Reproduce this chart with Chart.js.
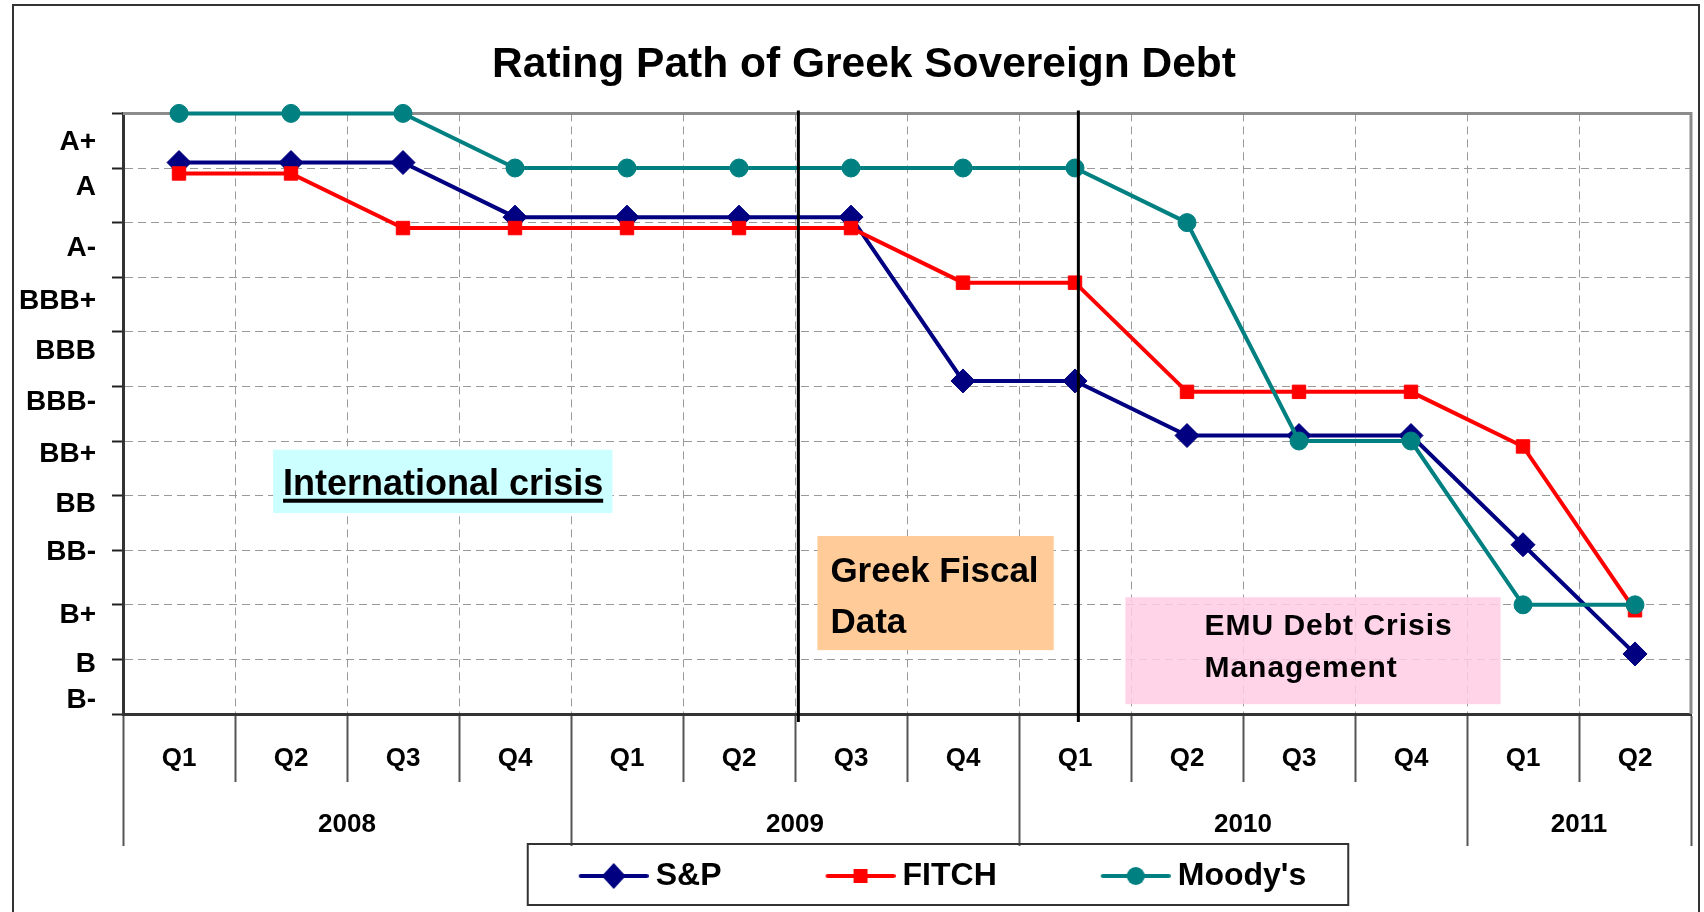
<!DOCTYPE html>
<html>
<head>
<meta charset="utf-8">
<title>Rating Path of Greek Sovereign Debt</title>
<script src="https://cdn.jsdelivr.net/npm/chart.js@4.4.1/dist/chart.umd.min.js"></script>
<style>
  body { margin: 0; background: #fff; }
  canvas { display: block; }
</style>
</head>
<body>
<canvas id="ratingChart" width="1704" height="912"></canvas>
<script>
// quarters on the axis, years grouped under them
const quarters = ['Q1', 'Q2', 'Q3', 'Q4', 'Q1', 'Q2', 'Q3', 'Q4', 'Q1', 'Q2', 'Q3', 'Q4', 'Q1', 'Q2'];
const years = ['2008', '2009', '2010', '2011'];
const quartersPerYear = [4, 4, 4, 2];

// rating labels and where they sit on the 0..11 scale
const ratings = ['A+', 'A', 'A-', 'BBB+', 'BBB', 'BBB-', 'BB+', 'BB', 'BB-', 'B+', 'B', 'B-'];
const ratingPos = [10.48, 9.64, 8.53, 7.56, 6.65, 5.71, 4.76, 3.85, 2.96, 1.81, 0.91, 0.26];

const sp = [10.1, 10.1, 10.1, 9.1, 9.1, 9.1, 9.1, 6.1, 6.1, 5.1, 5.1, 5.1, 3.1, 1.1];
const fitch = [9.9, 9.9, 8.9, 8.9, 8.9, 8.9, 8.9, 7.9, 7.9, 5.9, 5.9, 5.9, 4.9, 1.9];
const moodys = [11, 11, 11, 10, 10, 10, 10, 10, 10, 9, 5, 5, 2, 2];

// black event lines (category index)
const eventLines = [5.53, 8.03];

// text boxes, corners in axis units
const notes = [
  { lines: ['International crisis'], x0: 0.84, x1: 3.87, y0: 4.84, y1: 3.68, fill: '#ccffff', size: 36, spacing: 0, dx: 10, dy: 45, gap: 0, underline: true },
  { lines: ['Greek Fiscal', 'Data'], x0: 5.70, x1: 7.81, y0: 3.26, y1: 1.17, fill: '#ffcc99', size: 35, spacing: 0, dx: 13, dy: 46, gap: 51 },
  { lines: ['EMU Debt Crisis', 'Management'], x0: 8.45, x1: 11.80, y0: 2.14, y1: 0.18, fill: 'rgba(255,204,229,0.85)', size: 30, spacing: 1, dx: 79, dy: 38, gap: 42 }
];

const navy = '#000080';
const red = '#ff0000';
const teal = '#008080';
const FONT = '"Liberation Sans", Arial, sans-serif';

const yearEdges = [0];
quartersPerYear.forEach(n => yearEdges.push(yearEdges[yearEdges.length - 1] + n));
const yearMid = years.map((y, i) => (yearEdges[i] + yearEdges[i + 1]) / 2);

function legendIcon(color, style) {
  const c = document.createElement('canvas');
  c.width = 88;
  c.height = 28;
  const g = c.getContext('2d');
  g.strokeStyle = color;
  g.fillStyle = color;
  g.lineWidth = 4;
  g.lineCap = 'round';
  g.beginPath();
  g.moveTo(20, 14);
  g.lineTo(86, 14);
  g.stroke();
  g.beginPath();
  if (style === 'diamond') {
    g.moveTo(53, 1); g.lineTo(65, 14); g.lineTo(53, 27); g.lineTo(41, 14); g.closePath();
  } else if (style === 'square') {
    g.rect(46, 7, 14, 14);
  } else {
    g.arc(53, 14, 9, 0, Math.PI * 2);
  }
  g.fill();
  return c;
}
const legendIcons = [legendIcon(navy, 'diamond'), legendIcon(red, 'square'), legendIcon(teal, 'circle')];

const decor = {
  id: 'decor',
  beforeDraw(chart) {
    const ctx = chart.ctx;
    ctx.save();
    ctx.fillStyle = '#fff';
    ctx.fillRect(0, 0, chart.width, chart.height);
    ctx.strokeStyle = '#333';
    ctx.lineWidth = 2;
    ctx.strokeRect(13, 5, 1686, chart.height + 20);
    ctx.restore();
  },
  afterLayout(chart) {
    const lg = chart.legend;
    lg.left += 87;
    lg.right += 87;
    lg.top += 14 - lg.options.labels.padding;
    chart.titleBlock.left += 13;
    chart.titleBlock.right += 13;
  },
  beforeDatasetsDraw(chart) {
    const { ctx, chartArea: a, scales: { x, y } } = chart;
    ctx.save();
    ctx.strokeStyle = '#8c8c8c';
    ctx.lineWidth = 3;
    ctx.beginPath();
    ctx.moveTo(a.left, a.top);
    ctx.lineTo(a.right, a.top);
    ctx.lineTo(a.right, a.bottom);
    ctx.stroke();

    notes.forEach(n => {
      const l = x.getPixelForValue(n.x0), r = x.getPixelForValue(n.x1);
      const t = y.getPixelForValue(n.y0), b = y.getPixelForValue(n.y1);
      ctx.fillStyle = n.fill;
      ctx.fillRect(l, t, r - l, b - t);
      ctx.fillStyle = '#000';
      ctx.font = 'bold ' + n.size + 'px ' + FONT;
      ctx.letterSpacing = n.spacing + 'px';
      ctx.textAlign = 'left';
      ctx.textBaseline = 'alphabetic';
      n.lines.forEach((s, i) => {
        const ty = t + n.dy + i * n.gap;
        ctx.fillText(s, l + n.dx, ty);
        if (n.underline) {
          ctx.fillRect(l + n.dx, ty + 4, ctx.measureText(s).width, 4);
        }
      });
      ctx.letterSpacing = '0px';
    });
    ctx.restore();
  },
  afterDatasetsDraw(chart) {
    const { ctx, chartArea: a, scales: { x } } = chart;
    ctx.save();
    ctx.strokeStyle = '#000';
    ctx.lineWidth = 3;
    eventLines.forEach(v => {
      const px = x.getPixelForValue(v);
      ctx.beginPath();
      ctx.moveTo(px, a.top - 3);
      ctx.lineTo(px, a.bottom + 8);
      ctx.stroke();
    });
    ctx.restore();
  },
  afterDraw(chart) {
    const hb = chart.legend.legendHitBoxes;
    if (!hb || !hb.length) return;
    const first = hb[0], last = hb[hb.length - 1];
    const l = first.left - 42, r = last.left + last.width + 42;
    const cy = first.top + first.height / 2;
    const ctx = chart.ctx;
    ctx.save();
    ctx.strokeStyle = '#333';
    ctx.lineWidth = 2;
    ctx.strokeRect(l, cy - 32, r - l, 61);
    ctx.restore();
  }
};

Chart.defaults.font.family = FONT;

const ctx = document.getElementById('ratingChart').getContext('2d');
new Chart(ctx, {
  type: 'line',
  data: {
    labels: quarters,
    datasets: [
      { label: 'S&P', data: sp, borderColor: navy, backgroundColor: navy, borderWidth: 4,
        pointStyle: 'rectRot', pointRadius: 12, pointBackgroundColor: navy, pointBorderColor: navy,
        pointBorderWidth: 1, order: 2, clip: false },
      { label: 'FITCH', data: fitch, borderColor: red, backgroundColor: red, borderWidth: 4,
        pointStyle: 'rect', pointRadius: 9.5, pointBackgroundColor: red, pointBorderColor: red,
        pointBorderWidth: 1, order: 1, clip: false },
      { label: "Moody's", data: moodys, borderColor: teal, backgroundColor: teal, borderWidth: 4,
        pointStyle: 'circle', pointRadius: 9, pointBackgroundColor: teal, pointBorderColor: teal,
        pointBorderWidth: 1, order: 0, clip: false }
    ]
  },
  options: {
    responsive: false,
    devicePixelRatio: 1,
    animation: false,
    events: [],
    layout: { padding: { left: 10, right: 12, top: 0, bottom: 0 } },
    scales: {
      x: {
        type: 'category',
        offset: true,
        weight: 0,
        grid: {
          offset: true,
          color: c => (c.type === 'tick' && c.index > 0) ? '#9a9a9a' : 'rgba(0,0,0,0)',
          lineWidth: 1,
          tickLength: 68,
          tickColor: '#555',
          tickWidth: 2
        },
        border: { color: '#333', width: 3, dash: [8, 5] },
        ticks: { color: '#000', font: { size: 26, weight: 'bold' }, padding: -38.6, autoSkip: false, maxRotation: 0 },
        afterFit: s => { s.height = 68; }
      },
      years: {
        type: 'linear',
        axis: 'x',
        position: 'bottom',
        weight: 1,
        min: 0,
        max: quarters.length,
        grid: {
          drawOnChartArea: false,
          tickLength: 64,
          tickWidth: 2,
          tickColor: c => (c.tick && yearEdges.includes(c.tick.value)) ? '#555' : 'rgba(0,0,0,0)'
        },
        border: { display: false },
        afterBuildTicks: s => {
          s.ticks = yearEdges.concat(yearMid).sort((a, b) => a - b).map(v => ({ value: v }));
        },
        ticks: {
          autoSkip: false,
          maxRotation: 0,
          padding: -36.6,
          color: '#000',
          font: { size: 26, weight: 'bold' },
          callback: v => {
            const i = yearMid.indexOf(v);
            return i < 0 ? '' : years[i];
          }
        },
        afterFit: s => { s.height = 64; }
      },
      y: {
        position: 'left',
        weight: 0,
        min: 0,
        max: 11,
        ticks: { display: false, stepSize: 1 },
        grid: { color: '#9a9a9a', lineWidth: 1, tickLength: 11, tickColor: '#222', tickWidth: 2 },
        border: { color: '#333', width: 3, dash: [8, 5] },
        afterFit: s => { s.width = 11; }
      },
      yLabels: {
        type: 'linear',
        axis: 'y',
        position: 'left',
        weight: 1,
        min: 0,
        max: 11,
        grid: { display: false },
        border: { display: false },
        afterBuildTicks: s => { s.ticks = ratingPos.map(v => ({ value: v })); },
        ticks: {
          autoSkip: false,
          padding: 8,
          color: '#000',
          font: { size: 28, weight: 'bold' },
          callback: (v, i) => ratings[i]
        },
        afterFit: s => { s.width = 102; }
      }
    },
    plugins: {
      title: {
        display: true,
        text: 'Rating Path of Greek Sovereign Debt',
        color: '#000',
        font: { size: 42.5, weight: 'bold' },
        padding: { top: 40, bottom: 22.4 }
      },
      legend: {
        position: 'bottom',
        maxHeight: 66,
        labels: {
          usePointStyle: true,
          pointStyleWidth: 70,
          padding: 95,
          color: '#000',
          font: { size: 32, weight: 'bold' },
          generateLabels: chart => Chart.defaults.plugins.legend.labels.generateLabels(chart)
            .map(item => Object.assign({}, item, { pointStyle: legendIcons[item.datasetIndex] })),
          sort: (a, b) => a.datasetIndex - b.datasetIndex
        }
      },
      tooltip: { enabled: false }
    }
  },
  plugins: [decor]
});
</script>
</body>
</html>
